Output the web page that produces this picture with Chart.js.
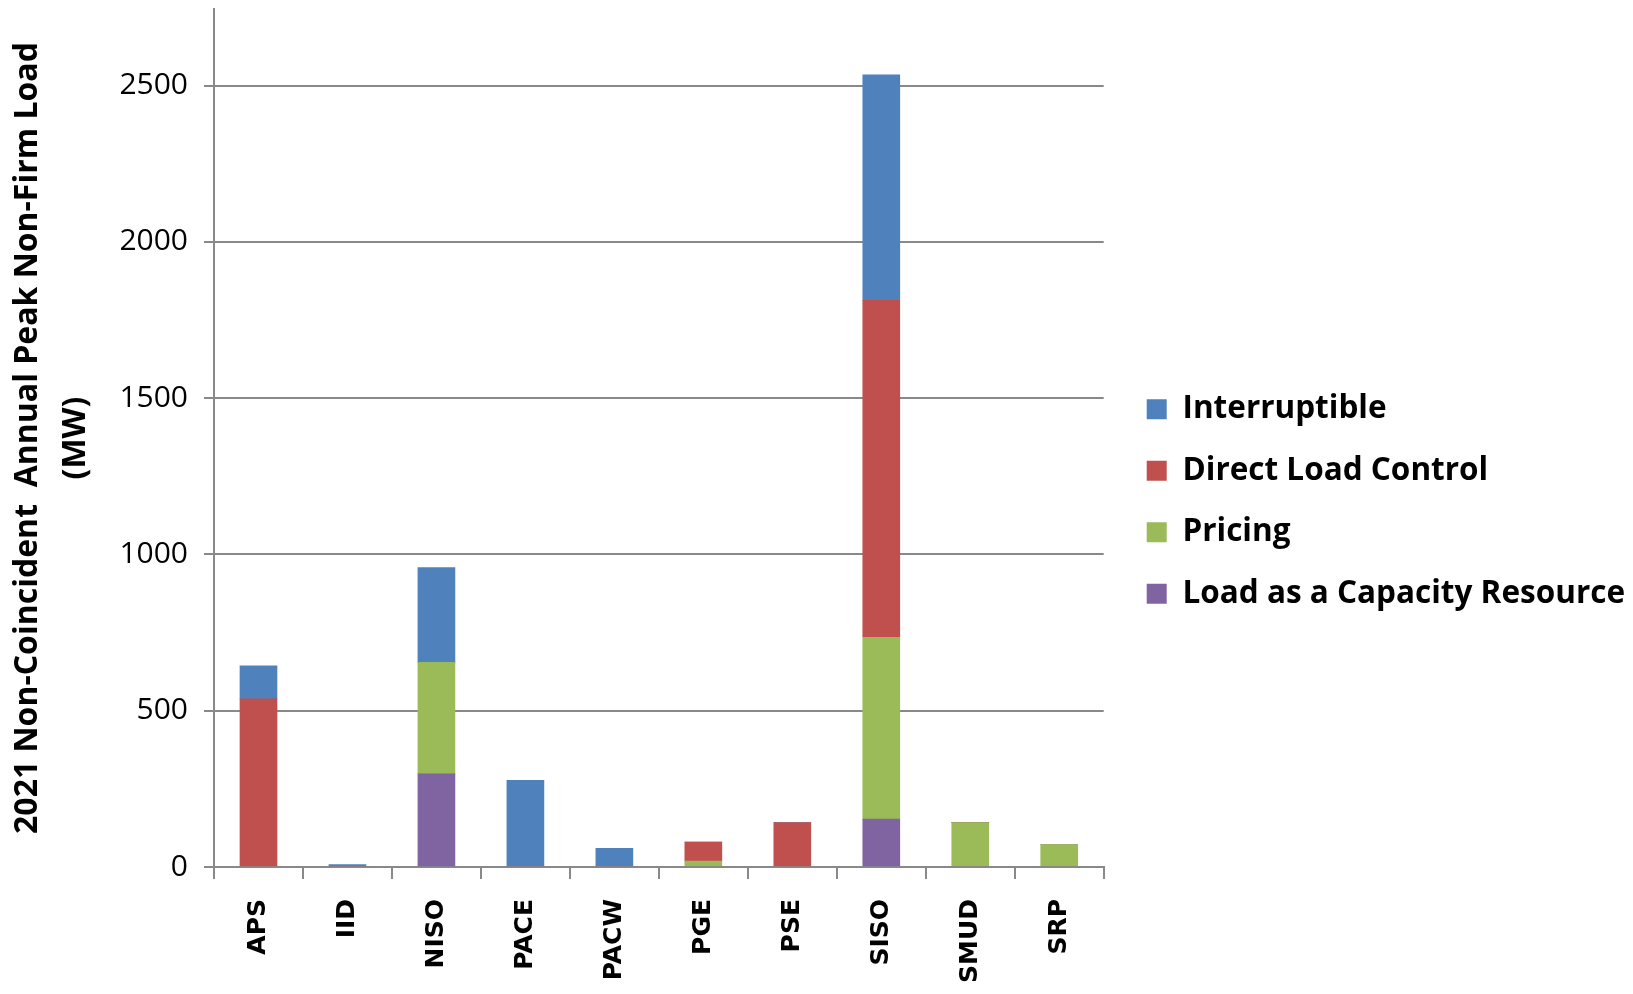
<!DOCTYPE html>
<html>
<head>
<meta charset="utf-8">
<script src="https://cdn.jsdelivr.net/npm/chart.js@4.4.1/dist/chart.umd.min.js"></script>
<style>
  html, body { margin: 0; padding: 0; background: #ffffff; }
  #wrap { width: 1633px; height: 994px; }
</style>
</head>
<body>
<div id="wrap"><canvas id="c" width="1633" height="994"></canvas></div>
<script>
const categories = ['APS', 'IID', 'NISO', 'PACE', 'PACW', 'PGE', 'PSE', 'SISO', 'SMUD', 'SRP'];
const interruptible = [106, 8, 303, 277, 60, 0, 0, 721, 0, 0];
const directLoadControl = [538, 0, 0, 0, 0, 61, 142, 1078, 0, 0];
const pricing = [0, 0, 357, 0, 0, 19, 0, 582, 142, 72];
const loadAsCapacity = [0, 0, 298, 0, 0, 0, 0, 153, 0, 0];
const yTicks = [0, 500, 1000, 1500, 2000, 2500];
const yTitle = ['2021 Non-Coincident  Annual Peak Non-Firm Load', '(MW)'];

const GRAY = '#898989';

const legendShift = {
  id: 'legendShift',
  afterLayout(chart) {
    const lg = chart.legend;
    if (lg) { lg.left += 13; lg.right += 13; }
  }
};

new Chart(document.getElementById('c'), {
  type: 'bar',
  data: {
    labels: categories,
    datasets: [
      { label: 'Load as a Capacity Resource', data: loadAsCapacity, backgroundColor: '#8064A2' },
      { label: 'Pricing', data: pricing, backgroundColor: '#9BBB59' },
      { label: 'Direct Load Control', data: directLoadControl, backgroundColor: '#C0504D' },
      { label: 'Interruptible', data: interruptible, backgroundColor: '#4F81BD' }
    ]
  },
  plugins: [legendShift],
  options: {
    responsive: false,
    animation: false,
    devicePixelRatio: 1,
    layout: { padding: { left: 4, top: 9, right: 11, bottom: 0 } },
    datasets: { bar: { barThickness: 37 } },
    plugins: {
      tooltip: { enabled: false },
      legend: {
        position: 'right',
        reverse: true,
        maxWidth: 700,
        labels: {
          boxWidth: 20,
          boxHeight: 20,
          padding: 30,
          color: '#000',
          font: { family: 'Open Sans', weight: 'bold', size: 31.5 }
        }
      }
    },
    scales: {
      x: {
        stacked: true,
        border: { display: true, color: GRAY, width: 2 },
        grid: { offset: true, drawOnChartArea: false, color: GRAY, lineWidth: 2, tickLength: 12 },
        ticks: {
          color: '#000',
          minRotation: 90,
          maxRotation: 90,
          padding: 20,
          font: { family: 'DejaVu Sans', weight: 'bold', size: 25 }
        },
        afterFit: (s) => { s.height = 127; }
      },
      y: {
        stacked: true,
        min: 0,
        max: 2745,
        afterBuildTicks: (s) => { s.ticks = yTicks.map(v => ({ value: v })); },
        border: { display: true, color: GRAY, width: 2 },
        grid: { color: GRAY, lineWidth: 2, tickLength: 10 },
        ticks: {
          color: '#000',
          padding: 16,
          callback: (v) => String(v),
          font: { family: 'Open Sans', size: 30 }
        },
        title: {
          display: true,
          text: yTitle,
          color: '#000',
          padding: { top: 0, bottom: 12 },
          font: { family: 'Open Sans', weight: 'bold', size: 32, lineHeight: 1.5 }
        },
        afterFit: (s) => { s.width = 210; s.paddingTop = 0; s.paddingBottom = 0; }
      }
    }
  }
});
</script>
</body>
</html>
